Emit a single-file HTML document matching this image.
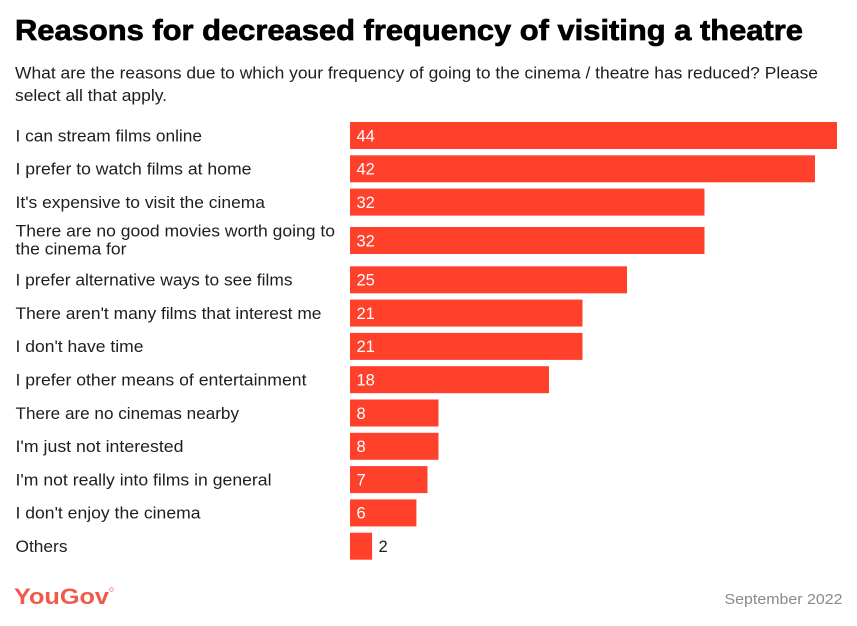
<!DOCTYPE html>
<html>
<head>
<meta charset="utf-8">
<style>
  html,body{margin:0;padding:0;background:#fff;}
  svg{display:block;}
  .lbl{font-family:"Liberation Sans",sans-serif;font-size:16.5px;fill:#1e1e1e;}
  .val{font-family:"Liberation Sans",sans-serif;font-size:16.5px;fill:#fff;}
</style>
</head>
<body>
<svg width="857" height="626" viewBox="0 0 857 626" xmlns="http://www.w3.org/2000/svg">
  <rect width="857" height="626" fill="#fff"/>
  <text x="15" y="40" font-family="Liberation Sans, sans-serif" font-size="28.5" font-weight="bold" fill="#000" stroke="#000" stroke-width="0.7" textLength="788" lengthAdjust="spacingAndGlyphs">Reasons for decreased frequency of visiting a theatre</text>
  <text x="15" y="78.5" class="lbl" textLength="803" lengthAdjust="spacingAndGlyphs">What are the reasons due to which your frequency of going to the cinema / theatre has reduced? Please</text>
  <text x="15" y="101" class="lbl" textLength="152" lengthAdjust="spacingAndGlyphs">select all that apply.</text>

  <g fill="#ff412c">
    <rect x="350" y="122" width="487" height="27"/>
    <rect x="350" y="155.3" width="465" height="27"/>
    <rect x="350" y="188.6" width="354.5" height="27"/>
    <rect x="350" y="227" width="354.5" height="27"/>
    <rect x="350" y="266.3" width="277" height="27"/>
    <rect x="350" y="299.6" width="232.5" height="27"/>
    <rect x="350" y="332.9" width="232.5" height="27"/>
    <rect x="350" y="366.2" width="199" height="27"/>
    <rect x="350" y="399.5" width="88.5" height="27"/>
    <rect x="350" y="432.8" width="88.5" height="27"/>
    <rect x="350" y="466.1" width="77.5" height="27"/>
    <rect x="350" y="499.4" width="66.4" height="27"/>
    <rect x="350" y="532.7" width="22.1" height="27"/>
  </g>

  <g class="lbl">
    <text x="15.5" y="141.3" class="lbl" textLength="186.5" lengthAdjust="spacingAndGlyphs">I can stream films online</text>
    <text x="15.5" y="174.6" class="lbl" textLength="236" lengthAdjust="spacingAndGlyphs">I prefer to watch films at home</text>
    <text x="15.5" y="207.9" class="lbl" textLength="249.5" lengthAdjust="spacingAndGlyphs">It's expensive to visit the cinema</text>
    <text x="15.5" y="236.7" class="lbl" textLength="319.5" lengthAdjust="spacingAndGlyphs">There are no good movies worth going to</text>
    <text x="15.5" y="254.3" class="lbl" textLength="111" lengthAdjust="spacingAndGlyphs">the cinema for</text>
    <text x="15.5" y="285.6" class="lbl" textLength="277" lengthAdjust="spacingAndGlyphs">I prefer alternative ways to see films</text>
    <text x="15.5" y="318.9" class="lbl" textLength="306" lengthAdjust="spacingAndGlyphs">There aren't many films that interest me</text>
    <text x="15.5" y="352.2" class="lbl" textLength="128" lengthAdjust="spacingAndGlyphs">I don't have time</text>
    <text x="15.5" y="385.5" class="lbl" textLength="291" lengthAdjust="spacingAndGlyphs">I prefer other means of entertainment</text>
    <text x="15.5" y="418.8" class="lbl" textLength="223.5" lengthAdjust="spacingAndGlyphs">There are no cinemas nearby</text>
    <text x="15.5" y="452.1" class="lbl" textLength="168" lengthAdjust="spacingAndGlyphs">I'm just not interested</text>
    <text x="15.5" y="485.4" class="lbl" textLength="256" lengthAdjust="spacingAndGlyphs">I'm not really into films in general</text>
    <text x="15.5" y="518.7" class="lbl" textLength="185" lengthAdjust="spacingAndGlyphs">I don't enjoy the cinema</text>
    <text x="15.5" y="552" class="lbl" textLength="52" lengthAdjust="spacingAndGlyphs">Others</text>
  </g>

  <g>
    <text x="356.5" y="141.3" class="val">44</text>
    <text x="356.5" y="174.6" class="val">42</text>
    <text x="356.5" y="207.9" class="val">32</text>
    <text x="356.5" y="246.3" class="val">32</text>
    <text x="356.5" y="285.6" class="val">25</text>
    <text x="356.5" y="318.9" class="val">21</text>
    <text x="356.5" y="352.2" class="val">21</text>
    <text x="356.5" y="385.5" class="val">18</text>
    <text x="356.5" y="418.8" class="val">8</text>
    <text x="356.5" y="452.1" class="val">8</text>
    <text x="356.5" y="485.4" class="val">7</text>
    <text x="356.5" y="518.7" class="val">6</text>
    <text x="378.5" y="552" class="lbl">2</text>
  </g>

  <text x="14" y="604" font-family="Liberation Sans, sans-serif" font-size="22.5" font-weight="bold" fill="#f15a4b" textLength="95" lengthAdjust="spacingAndGlyphs">YouGov</text>
  <circle cx="111.5" cy="589.5" r="1.8" fill="none" stroke="#f15a4b" stroke-width="0.6"/>
  <text x="842.5" y="604" text-anchor="end" font-family="Liberation Sans, sans-serif" font-size="15" fill="#8a8a8a" textLength="118" lengthAdjust="spacingAndGlyphs">September 2022</text>
</svg>
</body>
</html>
